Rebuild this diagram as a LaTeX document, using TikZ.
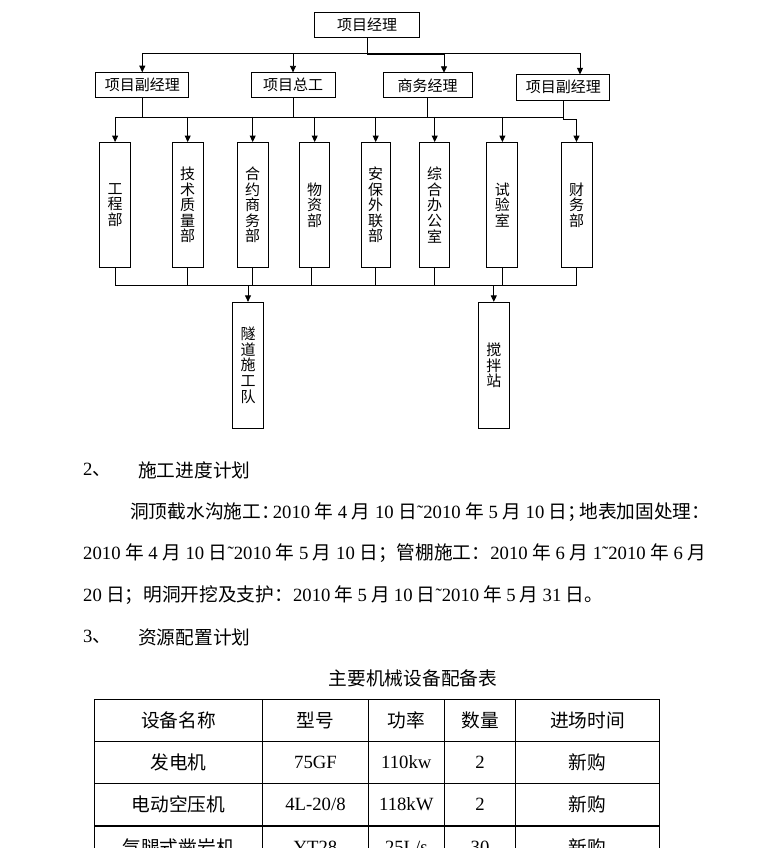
\documentclass[tikz,border=0pt]{standalone}
\usepackage{fontspec}
\setmainfont{Noto Sans CJK SC}
\newfontfamily\lat{Liberation Serif}
\usetikzlibrary{arrows.meta}
\begin{document}
\begin{tikzpicture}[x=1pt,y=-1pt,
  box/.style={draw,line width=0.9pt,inner sep=0pt,minimum height=25pt,font=\fontsize{15}{16}\selectfont},
  vbox/.style={draw,line width=0.9pt,inner sep=0pt,minimum width=30.5pt,minimum height=125pt,align=center,font=\fontsize{15}{15.6}\selectfont},
  ln/.style={line width=0.9pt},
  arr/.style={line width=0.9pt,-{Triangle[length=6.5pt,width=6pt]}},
  para/.style={anchor=west,inner sep=0pt,font=\fontsize{18.7}{20}\selectfont},
  cell/.style={inner sep=0pt,font=\fontsize{18.7}{20}\selectfont},
  tl/.style={line width=1.2pt}
]
\useasboundingbox (0,0) rectangle (772,848);
\clip (0,0) rectangle (772,848);
\fill[white] (0,0) rectangle (772,848);

% ---- org chart ----
\node[box,minimum width=105pt] (pm) at (367,25) {项目经理};
\node[box,minimum width=93pt] (d1) at (142.3,85.2) {项目副经理};
\node[box,minimum width=84pt] (d2) at (293,85.3) {项目总工};
\node[box,minimum width=89pt] (d3) at (427.5,85.3) {商务经理};
\node[box,minimum width=93pt,minimum height=25.7pt] (d4) at (563.3,87.2) {项目副经理};

\node[vbox,minimum width=31pt] (v1) at (115.1,205) {工\\程\\部};
\node[vbox,minimum width=31pt] (v2) at (187.7,205) {技\\术\\质\\量\\部};
\node[vbox] (v3) at (252.7,205) {合\\约\\商\\务\\部};
\node[vbox,minimum width=30pt] (v4) at (314.7,205) {物\\资\\部};
\node[vbox,minimum width=29.5pt] (v5) at (375.7,205) {安\\保\\外\\联\\部};
\node[vbox,minimum width=30pt] (v6) at (434.7,205) {综\\合\\办\\公\\室};
\node[vbox,minimum width=31pt] (v7) at (502.4,205) {试\\验\\室};
\node[vbox,minimum width=31pt] (v8) at (576.5,205) {财\\务\\部};

\node[vbox,minimum width=30.6pt,minimum height=126pt] (w1) at (248,365.3) {隧\\道\\施\\工\\队};
\node[vbox,minimum width=31pt,minimum height=126pt] (w2) at (493.8,365.3) {搅\\拌\\站};

% level 1 -> 2
\coordinate (y1) at (0,53.5);
\coordinate (y1b) at (0,54.3);
\coordinate (t3) at (444,72.8);
\coordinate (t4) at (580,74.4);
\draw[ln] (pm.south) -- (pm.south |- y1);
\draw[ln] (d1.north |- y1) -- (t4 |- y1);
\draw[ln] (pm.south |- y1b) -- (t3 |- y1b);
\draw[arr] (d1.north |- y1) -- (d1.north);
\draw[arr] (d2.north |- y1) -- (d2.north);
\draw[arr] (t3 |- y1) -- (t3);
\draw[arr] (t4 |- y1) -- (t4);

% level 2 -> 3
\coordinate (y2) at (0,117);
\coordinate (y2b) at (0,117.8);
\coordinate (k4) at (563.3,119.5);
\draw[ln] (d1.south) -- (d1.south |- y2);
\draw[ln] (d2.south) -- (d2.south |- y2);
\draw[ln] (d3.south) -- (d3.south |- y2);
\draw[ln] (v1.north |- y2) -- (d4.south |- y2);
\draw[ln] (v5.north |- y2b) -- (v6.north |- y2b);
\draw[arr] (d4.south) -- (k4) -| (v8.north);
\foreach \i in {1,...,7} {\draw[arr] (v\i.north |- y2) -- (v\i.north);}

% level 3 -> 4
\coordinate (y3) at (0,285.3);
\coordinate (s4) at (311,0);
\foreach \i in {1,2,3,5,6,7,8} {\draw[ln] (v\i.south) -- (v\i.south |- y3);}
\draw[ln] (v4.south -| s4) -- (s4 |- y3);
\draw[ln] (v1.south |- y3) -- (v8.south |- y3);
\draw[arr] (w1.north |- y3) -- (w1.north);
\draw[arr] (w2.north |- y3) -- (w2.north);

% ---- text ----
\node[para] (h2n) at (83,470) {{\lat 2}、};
\node[para] (h2t) at (138,470) {施工进度计划};
\node[para] (l1) at (130,512) {\makebox[580pt][s]{洞顶截水沟施工：\kern-7pt{\lat 2010} 年 {\lat 4} 月 {\lat 10} 日{\lat ˜2010} 年 {\lat 5} 月 {\lat 10} 日；\kern-7pt地表加固处理：}};
\node[para] (l2) at (83,553) {\makebox[623pt][s]{{\lat 2010} 年 {\lat 4} 月 {\lat 10} 日{\lat ˜2010} 年 {\lat 5} 月 {\lat 10} 日；管棚施工：{\lat 2010} 年 {\lat 6} 月 {\lat 1˜2010} 年 {\lat 6} 月}};
\node[para] (l3) at (83,595) {{\lat 20} 日；明洞开挖及支护：{\lat 2010} 年 {\lat 5} 月 {\lat 10} 日{\lat ˜2010} 年 {\lat 5} 月 {\lat 31} 日。};
\node[para] (h3n) at (83,637) {{\lat 3}、};
\node[para] (h3t) at (138,637) {资源配置计划};

% ---- table ----
\node[cell] (title) at (413,678) {主要机械设备配备表};
\foreach \yy in {699.3,741.3,783.3,826} {\draw[tl] (94.5,\yy) -- (659.3,\yy);}
\foreach \xx in {94.5,262.7,368.3,444.3,515.7,659.3} {\draw[tl] (\xx,699.3) -- (\xx,880);}

\node[cell] (c11) at (178.6,720.3) {设备名称};
\node[cell] (c12) at (315.5,720.3) {型号};
\node[cell] (c13) at (406.3,720.3) {功率};
\node[cell] (c14) at (480,720.3) {数量};
\node[cell] (c15) at (587.5,720.3) {进场时间};

\node[cell] (c21) at (178.6,762.3) {发电机};
\node[cell] (c22) at (315.5,762.3) {\lat 75GF};
\node[cell] (c23) at (406.3,762.3) {\lat 110kw};
\node[cell] (c24) at (480,762.3) {\lat 2};
\node[cell] (c25) at (587.5,762.3) {新购};

\node[cell] (c31) at (178.6,804.6) {电动空压机};
\node[cell] (c32) at (315.5,804.6) {\lat 4L-20/8};
\node[cell] (c33) at (406.3,804.6) {\lat 118kW};
\node[cell] (c34) at (480,804.6) {\lat 2};
\node[cell] (c35) at (587.5,804.6) {新购};

\node[cell] (c41) at (178.6,847) {气腿式凿岩机};
\node[cell] (c42) at (315.5,847) {\lat YT28};
\node[cell] (c43) at (406.3,847) {\lat 25L/s};
\node[cell] (c44) at (480,847) {\lat 30};
\node[cell] (c45) at (587.5,847) {新购};
\end{tikzpicture}
\end{document}
